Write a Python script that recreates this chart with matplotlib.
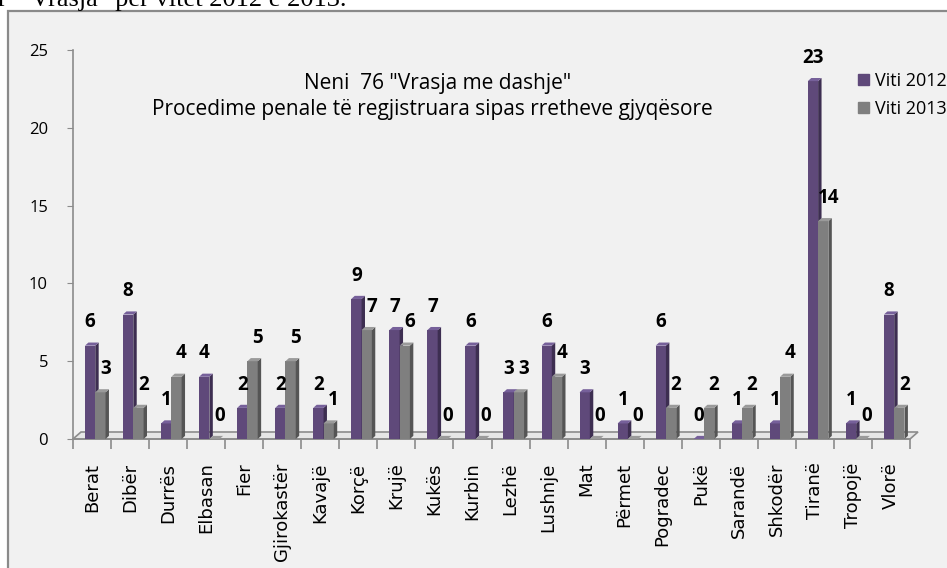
import matplotlib
matplotlib.use('Agg')
import matplotlib.pyplot as plt
from matplotlib.patches import Polygon, Rectangle, Patch

# data
rrethet = ['Berat', 'Dibër', 'Durrës', 'Elbasan', 'Fier', 'Gjirokastër', 'Kavajë',
           'Korçë', 'Krujë', 'Kukës', 'Kurbin', 'Lezhë', 'Lushnje', 'Mat', 'Përmet',
           'Pogradec', 'Pukë', 'Sarandë', 'Shkodër', 'Tiranë', 'Tropojë', 'Vlorë']
viti_2012 = [6, 8, 1, 4, 2, 2, 2, 9, 7, 7, 6, 3, 6, 3, 1, 6, 0, 1, 1, 23, 1, 8]
viti_2013 = [3, 2, 4, 0, 5, 5, 1, 7, 6, 0, 0, 3, 4, 0, 0, 2, 2, 2, 4, 14, 0, 2]
seri_emrat = ['Viti 2012', 'Viti 2013']

W, H = 947, 568
fig = plt.figure(figsize=(W / 100, H / 100), dpi=100)
fig.patch.set_facecolor('white')

# outer frame of the pasted excel chart (runs past the right/bottom edge)
fig.add_artist(Rectangle((8 / W, -0.1), 1.1, 1 - 11 / H + 0.1, transform=fig.transFigure,
                         facecolor='#f1f1f1', edgecolor='#8a8a8a', linewidth=1.6, zorder=0))
fig.text(-2 / W, 1 - 6 / H, 'r  "Vrasja" për vitet 2012 e 2013.', family='Liberation Serif',
         fontsize=19, va='baseline', ha='left')

ax = fig.add_axes([73 / W, 1 - 439 / H, (910 - 73) / W, (439 - 50) / H])
ax.set_facecolor('none')
ax.set_xlim(-0.5, len(rrethet) - 0.5)
ax.set_ylim(0, 25)

axis_col = '#8c8c8c'
for s in ['top', 'right']:
    ax.spines[s].set_visible(False)
ax.spines['left'].set_color(axis_col)
ax.spines['bottom'].set_color(axis_col)
ax.spines['left'].set_linewidth(1.2)
ax.spines['bottom'].set_linewidth(1.2)

# 3d floor
fdx, fdy = 0.21, 0.45
n = len(rrethet)
ax.add_patch(Polygon([(-0.5, 0), (-0.5 + fdx, fdy), (n - 0.5 + fdx, fdy), (n - 0.5, 0)],
                     closed=True, facecolor='#e6e6e6', edgecolor=axis_col, linewidth=1.2,
                     clip_on=False, zorder=1))

w = 0.27
dx, dy = 0.09, 0.2


def bars_3d(xs, hs, front, side, top, z):
    ax.bar(xs, hs, width=w, color=front, zorder=z, linewidth=0)
    for x, h in zip(xs, hs):
        l, r = x - w / 2, x + w / 2
        ax.add_patch(Polygon([(r, 0), (r + dx, dy), (r + dx, h + dy), (r, h)],
                             closed=True, color=side, zorder=z, clip_on=False, linewidth=0))
        ax.add_patch(Polygon([(l, h), (l + dx, h + dy), (r + dx, h + dy), (r, h)],
                             closed=True, color=top, zorder=z, clip_on=False, linewidth=0))


x_p = [i - 0.05 for i in range(n)]
x_g = [i + 0.22 for i in range(n)]
bars_3d(x_p, viti_2012, '#5f497a', '#3d2e51', '#76609a', 3)
bars_3d(x_g, viti_2013, '#7f7f7f', '#555555', '#9a9a9a', 4)

lab_font = dict(family='Open Sans', fontsize=13.5, fontweight='bold', ha='center', va='center')
for x, h in zip(x_p, viti_2012):
    ax.text(x, h + 1.5, str(h), zorder=6, **lab_font)
for x, h in zip(x_g, viti_2013):
    ax.text(x + 0.13, h + 1.5, str(h), zorder=6, **lab_font)

# ticks
ax.set_yticks(range(0, 26, 5))
ax.tick_params(axis='y', length=4, color=axis_col, pad=14, labelsize=12)
for t in ax.get_yticklabels():
    t.set_family('Open Sans')
ax.set_xticks([i - 0.5 for i in range(n + 1)])
ax.set_xticklabels([])
ax.tick_params(axis='x', which='major', length=7, color=axis_col, width=1.2)
ax.set_xticks(range(n), minor=True)
ax.set_xticklabels(rrethet, minor=True, rotation=90, fontsize=13, family='DejaVu Sans',
                   va='top', ha='center')
ax.tick_params(axis='x', which='minor', length=0, pad=17)

# titles inside plot area
fig.text(438 / W, 1 - 83 / H, 'Neni  76 "Vrasja me dashje"', family='Open Sans', fontsize=15,
         ha='center', va='center')
fig.text(432 / W, 1 - 110 / H, 'Procedime penale të regjistruara sipas rretheve gjyqësore',
         family='Open Sans', fontsize=15, ha='center', va='center')

handles = [Patch(color='#5f497a'), Patch(color='#7f7f7f')]
fig.legend(handles, seri_emrat, loc='upper left', bbox_to_anchor=(858 / W, 1 - 72 / H),
           frameon=False, handlelength=0.6, handleheight=0.6, handletextpad=0.35,
           labelspacing=0.55, borderaxespad=0, borderpad=0,
           prop={'family': 'Open Sans', 'size': 13})

fig.savefig('out.png', dpi=100)
